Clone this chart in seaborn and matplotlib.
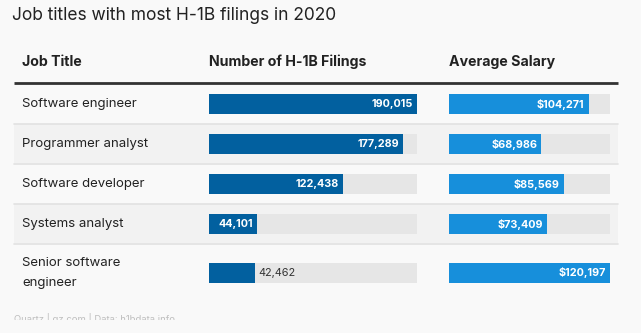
import matplotlib
matplotlib.use("Agg")
import matplotlib.pyplot as plt
from matplotlib.patches import Rectangle
import seaborn as sns
import pandas as pd

# ---- data -------------------------------------------------------------
job_titles = ["Software engineer", "Programmer analyst", "Software developer",
              "Systems analyst", "Senior software\nengineer"]
filings = [190015, 177289, 122438, 44101, 42462]
salaries = [104271, 68986, 85569, 73409, 120197]

title = "Job titles with most H-1B filings in 2020"
headers = ["Job Title", "Number of H-1B Filings", "Average Salary"]
source = "Quartz | qz.com | Data: h1bdata.info"

# ---- layout (pixels) --------------------------------------------------
W, H = 641, 333
BG = "#f9f9f9"
BAND = "#f2f2f2"
RULE = "#e2e2e2"
TRACK = "#e6e6e6"
DARK_BLUE = "#02609f"
LIGHT_BLUE = "#178fdb"
TEXT = "#222222"

table_left, table_right = 14, 618
header_y, header_rule_y = 62, 83
row_heights = [40, 40, 40, 40, 58]
row_tops = [header_rule_y + 1]
for h in row_heights[:-1]:
    row_tops.append(row_tops[-1] + h)
row_centers = [t + h / 2 for t, h in zip(row_tops, row_heights)]

col_x = [22, 209, 449]
filings_width = 208
salary_width = 161
bar_px = 20

sns.set_theme(style="white")
plt.rcParams["font.family"] = ["Inter", "DejaVu Sans"]

fig = plt.figure(figsize=(W / 100, H / 100), dpi=100)
fig.patch.set_facecolor(BG)

ax = fig.add_axes([0, 0, 1, 1])
ax.set_xlim(0, W)
ax.set_ylim(H, 0)
ax.axis("off")
ax.set_facecolor(BG)

# title
ax.text(12, 15, title, fontsize=12.5, color=TEXT, va="center", ha="left")

# header
for x, label in zip(col_x, headers):
    ax.text(x, header_y, label, fontsize=10.2, fontweight="bold", color=TEXT,
            va="center", ha="left")
ax.plot([table_left, table_right], [header_rule_y, header_rule_y],
        color="#333333", lw=2.0, solid_capstyle="butt")

# banded rows and separators
for i, (top, h) in enumerate(zip(row_tops, row_heights)):
    if i % 2 == 1:
        ax.add_patch(Rectangle((table_left, top), table_right - table_left, h - 1,
                               facecolor=BAND, edgecolor="none", zorder=0))
    if i < len(row_heights) - 1:
        y = top + h - 0.5
        ax.plot([table_left, table_right], [y, y], color=RULE, lw=1.2, zorder=1)

# row labels
for label, cy in zip(job_titles, row_centers):
    ax.text(col_x[0], cy, label, fontsize=9.5, color=TEXT, va="center",
            ha="left", linespacing=1.8)

# source line, cut at the bottom edge of the frame
ax.text(table_left, 318, source, fontsize=6.8, color="#bdbdbd",
        va="center", ha="left", zorder=2)
ax.add_patch(Rectangle((0, 319.5), W, H - 319.5, facecolor=BG,
                       edgecolor="none", zorder=5))


def bar_column(x0, width, values, color, fmt):
    bx = fig.add_axes([x0 / W, 0, width / W, 1])
    bx.patch.set_alpha(0)
    vmax = max(values)
    df = pd.DataFrame({"value": values, "pos": row_centers,
                       "track": [vmax] * len(values)})
    frac = bar_px / min(b - a for a, b in zip(row_centers, row_centers[1:]))
    sns.barplot(data=df, x="track", y="pos", orient="h", native_scale=True,
                color=TRACK, saturation=1, width=frac, errorbar=None,
                linewidth=0, ax=bx)
    sns.barplot(data=df, x="value", y="pos", orient="h", native_scale=True,
                color=color, saturation=1, width=frac, errorbar=None,
                linewidth=0, ax=bx)
    bx.set_xlim(0, vmax)
    bx.set_ylim(H, 0)
    bx.axis("off")
    for v, cy in zip(values, row_centers):
        if v / vmax >= 0.228:
            bx.annotate(fmt(v), xy=(v, cy), xytext=(-3.0, 0),
                        textcoords="offset points", ha="right", va="center",
                        fontsize=7.8, fontweight="bold", color="white")
        else:
            bx.annotate(fmt(v), xy=(v, cy), xytext=(2.2, 0),
                        textcoords="offset points", ha="left", va="center",
                        fontsize=7.8, color="#333333")
    return bx


bar_column(col_x[1], filings_width, filings, DARK_BLUE, lambda v: f"{v:,}")
bar_column(col_x[2], salary_width, salaries, LIGHT_BLUE, lambda v: f"${v:,}")

fig.savefig("out.png", dpi=100, facecolor=BG)
